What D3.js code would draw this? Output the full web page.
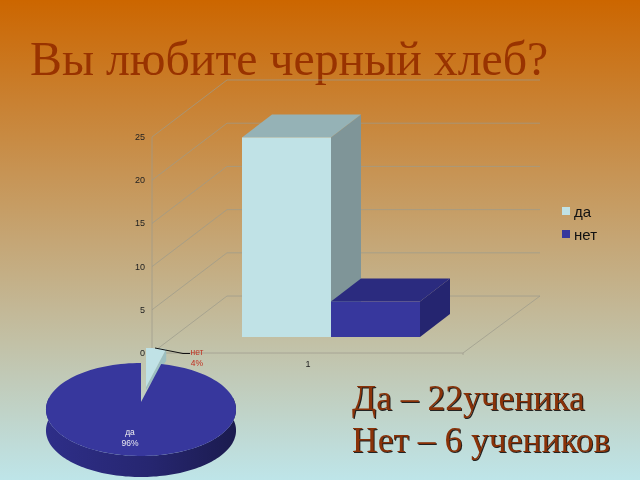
<!DOCTYPE html>
<html lang="ru"><head><meta charset="utf-8">
<script src="https://cdnjs.cloudflare.com/ajax/libs/d3/7.8.5/d3.min.js"></script>
<style>html,body{margin:0;padding:0;overflow:hidden}svg{display:block;filter:blur(0.35px)}</style>
</head><body><svg id="c" width="640" height="480"></svg>
<script>
const titleText = "Вы любите черный хлеб?";
const noteLines = ["Да – 22ученика", "Нет – 6 учеников"];
const seriesNames = ["да", "нет"];
const barValues = [23.1, 4.1];
const yTicks = [0, 5, 10, 15, 20, 25];
const categoryLabels = ["1"];
const pieLabels = ["да", "нет"];
const pieValues = [96, 4];
const piePercentLabels = ["96%", "4%"];

const svg = d3.select("#c");
const defs = svg.append("defs");
const bg = defs.append("linearGradient").attr("id","bg").attr("x1",0).attr("y1",0).attr("x2",0).attr("y2",1);
bg.append("stop").attr("offset",0).attr("stop-color","#cc6600");
bg.append("stop").attr("offset",1).attr("stop-color","#bee5e9");
const wall = defs.append("linearGradient").attr("id","wall").attr("gradientUnits","userSpaceOnUse")
  .attr("x1",46).attr("y1",0).attr("x2",236).attr("y2",0);
wall.append("stop").attr("offset",0).attr("stop-color","#2e2e88");
wall.append("stop").attr("offset",0.55).attr("stop-color","#262670");
wall.append("stop").attr("offset",1).attr("stop-color","#1b1b4e");
svg.append("rect").attr("width",640).attr("height",480).attr("fill","url(#bg)");

svg.append("text").text(titleText).attr("x",30).attr("y",75)
  .attr("font-family","Liberation Serif").attr("font-size",47.8).attr("fill","#993300");

// 3D column chart
const y = d3.scaleLinear().domain([0,25]).range([353,137]);
const x = d3.scaleBand().domain(seriesNames).range([242,420]);
const plot = {left:152, right:463, dx:75, dy:-57, barDx:30, barDy:-23, floorDy:-16};
const colors = {
  "да": {front:"#c0e2e6", top:"#95b2b6", side:"#7f9598"},
  "нет":{front:"#37379d", top:"#2b2b7f", side:"#252570"}
};
const gridColor = "#9c9a8c";
const grid = svg.append("g").attr("fill","none").attr("stroke",gridColor).attr("stroke-width",0.9).attr("stroke-opacity",0.8);
yTicks.forEach(t=>{
  const yy = y(t);
  grid.append("path").attr("d",
    `M${plot.left},${yy}L${plot.left+plot.dx},${yy+plot.dy}L${plot.right+plot.dx+2},${yy+plot.dy}`);
});
grid.append("path").attr("d",`M${plot.left},${y(25)}V${y(0)}H${plot.right}V${y(0)+2}M${plot.right},${y(0)}L${plot.right+plot.dx+2},${y(0)+plot.dy}`);

const axisFont = "Liberation Sans";
svg.append("g").selectAll("text").data(yTicks).join("text")
  .attr("x",145).attr("y",d=>y(d)+3).attr("text-anchor","end")
  .attr("font-family",axisFont).attr("font-size",9).attr("fill","#222").text(d=>d);
svg.append("text").text(categoryLabels[0]).attr("x",308).attr("y",367).attr("text-anchor","middle")
  .attr("font-family",axisFont).attr("font-size",9).attr("fill","#222");

const bars = svg.append("g");
seriesNames.forEach((name,i)=>{
  const x0 = x(name), x1 = x0 + x.bandwidth();
  const base = y(0)+plot.floorDy, top = y(barValues[i])+plot.floorDy;
  const {barDx:a, barDy:b} = plot, c = colors[name];
  bars.append("path").attr("fill",c.side).attr("d",`M${x1},${top}L${x1+a},${top+b}V${base+b}L${x1},${base}Z`);
  bars.append("path").attr("fill",c.top).attr("d",`M${x0},${top}L${x0+a},${top+b}H${x1+a}L${x1},${top}Z`);
  bars.append("rect").attr("x",x0).attr("y",top).attr("width",x.bandwidth()).attr("height",base-top).attr("fill",c.front);
});

// legend
const leg = svg.append("g");
seriesNames.forEach((name,i)=>{
  const ly = 207 + i*23;
  leg.append("rect").attr("x",562).attr("y",ly).attr("width",8).attr("height",8).attr("fill",colors[name].front);
  leg.append("text").text(name).attr("x",574).attr("y",ly+9.5).attr("font-family",axisFont)
    .attr("font-size",15).attr("fill","#111");
});

// 3D pie with perspective projection
const pieGen = d3.pie().sort(null).startAngle(14.4*Math.PI/180).endAngle(374.4*Math.PI/180);
const arcs = pieGen(pieValues);
const P = {cx:141, cy:402, R:93.8, A:45.3, k:0.161, depth:21};
const proj = (u,v)=>{const w=1+P.k*v; return [P.cx+P.R*u/w, P.cy-P.A*v/w];};
const arcPts = (a0,a1)=>d3.range(0,121).map(i=>{
  const t=a0+(a1-a0)*i/120; return proj(Math.sin(t),Math.cos(t));});
const line = d3.line();
const blue = arcs[0];

// side wall of the main slice: lower rim between the widest points
const lower = arcPts(Math.PI*0.47, Math.PI*1.53);
const wallPts = lower.concat(lower.slice().reverse().map(p=>[p[0],p[1]+P.depth]));
svg.append("path").attr("d",line(wallPts)+"Z").attr("fill","url(#wall)");

// exploded small slice
const lightAng = [0, 14.4*Math.PI/180];
const lightPts = [[P.cx,P.cy]].concat(arcPts(lightAng[0],lightAng[1]));
const lg = svg.append("g").attr("transform","translate(5,-15)");
const rim = lightPts[lightPts.length-1];
lg.append("path").attr("fill","#9cbfc1")
  .attr("d",line([lightPts[0],rim,[rim[0],rim[1]+12],[lightPts[0][0],lightPts[0][1]+3]])+"Z");
lg.append("path").attr("fill",colors["да"].front).attr("d",line(lightPts)+"Z");

// main slice top
const bluePts = [[P.cx,P.cy]].concat(arcPts(blue.startAngle, blue.endAngle));
svg.append("path").attr("fill",colors["нет"].front).attr("d",line(bluePts)+"Z");

// leader + pie labels
svg.append("path").attr("fill","none").attr("stroke","#111").attr("stroke-width",1)
  .attr("d",line([[155,348],[183,353.5],[190,353.5]]));
const pieLabelFont = {"font-family":axisFont,"font-size":8.5,"text-anchor":"middle"};
const putLabel = (s,xx,yy,fill)=>{const t=svg.append("text").text(s).attr("x",xx).attr("y",yy).attr("fill",fill);
  Object.entries(pieLabelFont).forEach(([k,v])=>t.attr(k,v));};
putLabel(pieLabels[0],130,435,"#f0f0f0");
putLabel(piePercentLabels[0],130,446,"#e8e8f0");
putLabel(pieLabels[1],197,355,"#c03020");
putLabel(piePercentLabels[1],197,366,"#c03020");

// notes
svg.append("g").selectAll("text").data(noteLines).join("text")
  .attr("x",352).attr("y",(d,i)=>410+i*42)
  .attr("font-family","Liberation Serif").attr("font-size",35.5).attr("fill","#8a3208")
  .style("filter","drop-shadow(1px 1px 0 #222)").text(d=>d);
</script></body></html>
